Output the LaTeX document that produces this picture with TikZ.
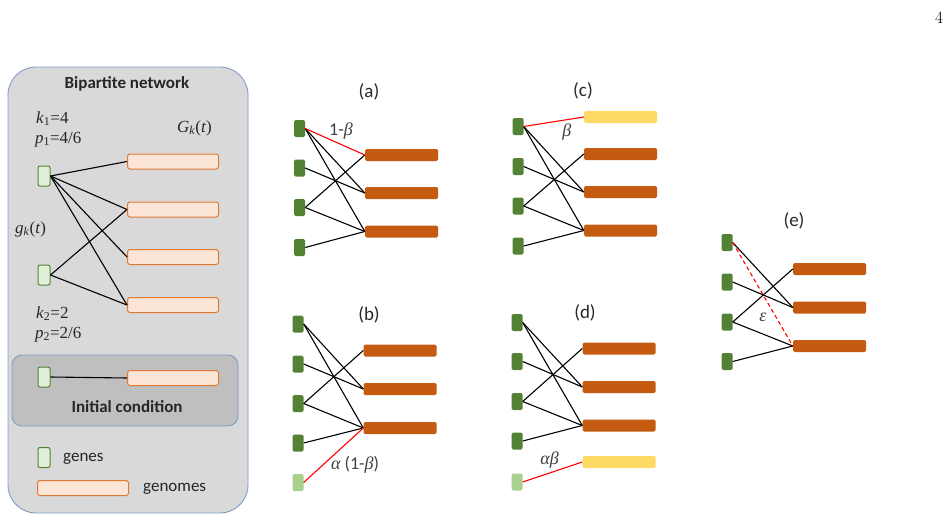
\documentclass[tikz,border=0pt]{standalone}
\usepackage{fontspec}
\setmainfont{Carlito}
\newfontfamily\lserif{Liberation Serif}
\usepackage{tikz}
\usetikzlibrary{positioning, calc}

\definecolor{genegreen}{HTML}{548235}
\definecolor{newgreen}{HTML}{A9D18E}
\definecolor{genomebrown}{HTML}{C55A11}
\definecolor{genomeyellow}{HTML}{FFD966}
\definecolor{palegreen}{HTML}{E2F0D9}
\definecolor{edgegreen}{HTML}{538135}
\definecolor{palepeach}{HTML}{FBE5D6}
\definecolor{edgeorange}{HTML}{E07A30}
\definecolor{panelgray}{HTML}{D9D9D9}
\definecolor{innergray}{HTML}{BFBFBF}
\definecolor{panelblue}{HTML}{7F9CC8}
\definecolor{labelgray}{HTML}{404040}

\newcommand{\gr}[1]{{\lserif\itshape #1}}

\tikzset{
  gene/.style={fill=genegreen, minimum width=11pt, minimum height=17pt,
    inner sep=0pt, rounded corners=1.5pt},
  newgene/.style={gene, fill=newgreen},
  genome/.style={fill=genomebrown, minimum width=73pt, minimum height=12pt,
    inner sep=0pt, rounded corners=1.5pt},
  newgenome/.style={genome, fill=genomeyellow},
  lgene/.style={draw=edgegreen, fill=palegreen, line width=1pt,
    minimum width=12pt, minimum height=20pt, inner sep=0pt, rounded corners=2pt},
  lgenome/.style={draw=edgeorange, fill=palepeach, line width=1pt,
    minimum width=91pt, minimum height=15pt, inner sep=0pt, rounded corners=2.5pt},
  link/.style={line width=1.1pt, black},
  newlink/.style={line width=1.1pt, red},
  paneltitle/.style={font=\fontsize{19}{22}\selectfont, inner sep=0pt, text=labelgray!60!black},
  rate/.style={font=\fontsize{18}{20}\selectfont, inner sep=1pt, text=labelgray},
  degree/.style={font=\lserif\fontsize{17}{20}\selectfont, anchor=base west,
    inner sep=0pt, text=labelgray!60!black},
  boxtitle/.style={font=\fontsize{17}{20}\selectfont\bfseries, inner sep=0pt, text=black!85},
  keytext/.style={font=\fontsize{17}{20}\selectfont, anchor=west, inner sep=0pt, text=black!85}
}

\begin{document}
\begin{tikzpicture}[x=1pt, y=-1pt]
  \useasboundingbox (0,0) rectangle (951,522);

  \node[inner sep=0pt, font=\fontsize{17}{20}\selectfont] (pagenum) at (939,18) {$4$};

  % left panel: bipartite network
  \draw[panelblue, fill=panelgray, line width=0.9pt, rounded corners=28pt]
    (8,67) rectangle (248,513);
  \node[boxtitle] (bipart) at (127,84) {Bipartite network};

  \node[degree] (k1) at (36,123) {\textit{k}\textsubscript{1}=4};
  \node[degree] (p1) at (35,143) {\textit{p}\textsubscript{1}=4/6};
  \node[degree] (Gk) at (177,132) {\textit{G}\textsubscript{\textit{k}}(\textit{t})};
  \node[degree] (gk) at (15,233) {\textit{g}\textsubscript{\textit{k}}(\textit{t})};
  \node[degree] (k2) at (36,318) {\textit{k}\textsubscript{2}=2};
  \node[degree] (p2) at (35,338) {\textit{p}\textsubscript{2}=2/6};

  \node[lgene] (L-g1) at (44,176) {};
  \node[lgene] (L-g2) at (44,275) {};
  \foreach \i/\y in {1/161.5, 2/209.5, 3/257, 4/305}
    \node[lgenome] (L-m\i) at (173,\y) {};
  \foreach \g/\m in {1/1, 1/2, 1/3, 1/4, 2/2, 2/4}
    \draw[link] (L-g\g.east) -- (L-m\m.west);

  % initial condition
  \draw[panelblue, fill=innergray, line width=0.9pt, rounded corners=10pt]
    (12,355) rectangle (238,426);
  \node[lgene] (I-g) at (44,377) {};
  \node[lgenome] (I-m) at (173,378) {};
  \draw[link] (I-g.east) -- (I-m.west);
  \node[boxtitle] (initcond) at (127,407) {Initial condition};

  % legend
  \node[lgene] (key-g) at (44,457.5) {};
  \node[lgenome] (key-m) at (83,488) {};
  \node[keytext] (key-gt) at (63,459) {genes};
  \node[keytext] (key-mt) at (143,489) {genomes};

  % (a)
  \node[paneltitle] (a) at (369,92) {(a)};
  \foreach \i/\y in {1/128.5, 2/168, 3/207.5, 4/247.5}
    \node[gene] (a-g\i) at (299.5,\y) {};
  \foreach \i/\y in {1/155, 2/193, 3/231.5}
    \node[genome] (a-m\i) at (401.5,\y) {};
  \foreach \g/\m in {1/2, 1/3, 2/2, 3/1, 3/3, 4/3}
    \draw[link] (a-g\g.east) -- (a-m\m.west);
  \draw[newlink] (a-g1.east) -- node[rate, pos=0.5, above, xshift=6pt, yshift=1pt] {1-\gr{β}} (a-m1.west);

  % (c)
  \node[paneltitle] (c) at (583,91) {(c)};
  \foreach \i/\y in {1/126.5, 2/166.5, 3/206, 4/246}
    \node[gene] (c-g\i) at (518,\y) {};
  \node[newgenome] (c-m0) at (620.5,117) {};
  \foreach \i/\y in {1/154, 2/192, 3/230.5}
    \node[genome] (c-m\i) at (620.5,\y) {};
  \foreach \g/\m in {1/2, 1/3, 2/2, 3/1, 3/3, 4/3}
    \draw[link] (c-g\g.east) -- (c-m\m.west);
  \draw[newlink] (c-g1.east) -- node[rate, pos=0.5, below, xshift=13pt, yshift=-1pt] {\gr{β}} (c-m0.west);

  % (b)
  \node[paneltitle] (b) at (369,315) {(b)};
  \foreach \i/\y in {1/324, 2/364, 3/403.5, 4/443}
    \node[gene] (b-g\i) at (298,\y) {};
  \node[newgene] (b-g5) at (298,482.5) {};
  \foreach \i/\y in {1/350.5, 2/389, 3/428}
    \node[genome] (b-m\i) at (400,\y) {};
  \foreach \g/\m in {1/2, 1/3, 2/2, 3/1, 3/3, 4/3}
    \draw[link] (b-g\g.east) -- (b-m\m.west);
  \draw[newlink] (b-g5.east) -- node[rate, pos=0.45, below right, xshift=-1pt, yshift=3pt] {\gr{α} (1-\gr{β})} (b-m3.west);

  % (d)
  \node[paneltitle] (d) at (585,313) {(d)};
  \foreach \i/\y in {1/322.5, 2/361.5, 3/401.5, 4/441}
    \node[gene] (d-g\i) at (517,\y) {};
  \node[newgene] (d-g5) at (517,482) {};
  \foreach \i/\y in {1/348.5, 2/387, 3/425.5}
    \node[genome] (d-m\i) at (619,\y) {};
  \node[newgenome] (d-m4) at (619,462) {};
  \foreach \g/\m in {1/2, 1/3, 2/2, 3/1, 3/3, 4/3}
    \draw[link] (d-g\g.east) -- (d-m\m.west);
  \draw[newlink] (d-g5.east) -- node[rate, pos=0.45, above, yshift=3pt] {\gr{αβ}} (d-m4.west);

  % (e)
  \node[paneltitle] (e) at (794,221) {(e)};
  \foreach \i/\y in {1/242.5, 2/282, 3/322, 4/361.5}
    \node[gene] (e-g\i) at (727,\y) {};
  \foreach \i/\y in {1/269, 2/307.5, 3/346}
    \node[genome] (e-m\i) at (829.5,\y) {};
  \foreach \g/\m in {1/2, 2/2, 3/1, 3/3, 4/3}
    \draw[link] (e-g\g.east) -- (e-m\m.west);
  \draw[newlink, dash pattern=on 4pt off 3pt] (e-g1.east) -- (e-m3.west);
  \node[rate] (eps) at (763,317) {\gr{ε}};
\end{tikzpicture}
\end{document}
